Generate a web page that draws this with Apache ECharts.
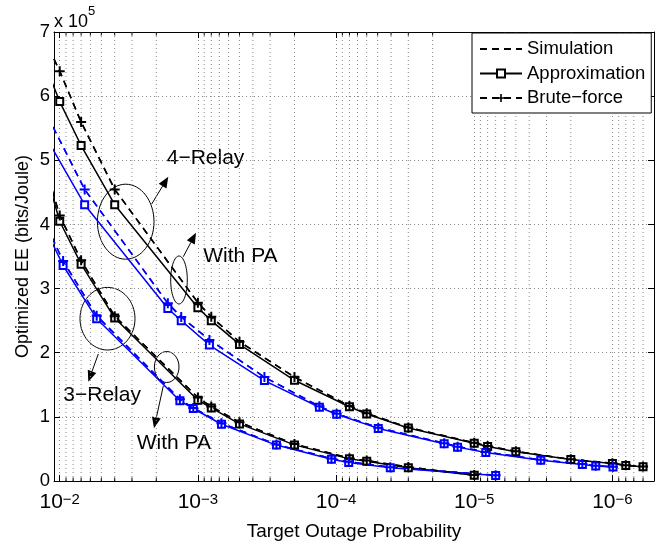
<!DOCTYPE html>
<html>
<head>
<meta charset="utf-8">
<script src="https://cdn.jsdelivr.net/npm/echarts@6/dist/echarts.min.js"></script>
<style>
  html, body { margin: 0; padding: 0; background: #fff; }
  #chart { width: 670px; height: 546px; }
</style>
</head>
<body>
<div id="chart"></div>
<script>
// x: target outage probability, y: optimized EE in units of 1e5 bits/Joule
// the first point of each curve sits just past the left edge and gets clipped
const outage4 = [1.2e-2, 1e-2, 7e-3, 4e-3, 1e-3, 8e-4, 5e-4, 2e-4, 8e-5, 6e-5, 3e-5, 1e-5, 8e-6, 5e-6, 2e-6, 1e-6, 8e-7, 6e-7];
const approx4 = [6.34, 5.915, 5.23, 4.307, 2.70, 2.50, 2.13, 1.57, 1.157, 1.045, 0.826, 0.589, 0.538, 0.457, 0.335, 0.274, 0.243, 0.223];
const brute4 = [6.75, 6.39, 5.596, 4.546, 2.78, 2.56, 2.17, 1.62, 1.17, 1.055, 0.835, 0.595, 0.545, 0.462, 0.338, 0.277, 0.246, 0.225];

const outage4PA = [1.65e-2, 1.155e-2, 6.6e-3, 1.65e-3, 1.32e-3, 8.25e-4, 3.3e-4, 1.32e-4, 9.9e-5, 4.95e-5, 1.65e-5, 1.32e-5, 8.25e-6, 3.3e-6, 1.65e-6, 1.32e-6, 9.9e-7];
const approx4PA = [5.90, 5.22, 4.307, 2.69, 2.50, 2.12, 1.565, 1.15, 1.04, 0.82, 0.58, 0.528, 0.446, 0.324, 0.259, 0.233, 0.218];
const brute4PA = [6.38, 5.58, 4.546, 2.77, 2.557, 2.20, 1.62, 1.165, 1.05, 0.83, 0.59, 0.535, 0.452, 0.33, 0.264, 0.238, 0.222];

const outage3 = [1.2e-2, 1e-2, 7e-3, 4e-3, 1e-3, 8e-4, 5e-4, 2e-4, 8e-5, 6e-5, 3e-5, 1e-5];
const approx3 = [4.64, 4.05, 3.38, 2.54, 1.26, 1.14, 0.89, 0.563, 0.345, 0.309, 0.208, 0.088];
const brute3 = [4.71, 4.14, 3.44, 2.57, 1.30, 1.16, 0.915, 0.575, 0.355, 0.318, 0.218, 0.092];

const outage3PA = [1.35e-2, 9.45e-3, 5.4e-3, 1.35e-3, 1.08e-3, 6.75e-4, 2.7e-4, 1.08e-4, 8.1e-5, 4.05e-5, 7e-6];
const approx3PA = [4.05, 3.36, 2.53, 1.25, 1.13, 0.885, 0.56, 0.34, 0.29, 0.208, 0.085];
const brute3PA = [4.14, 3.43, 2.576, 1.274, 1.137, 0.902, 0.568, 0.35, 0.3, 0.215, 0.09];

const legendNames = ['Simulation', 'Approximation', 'Brute\u2212force'];

// axis range
const xMin = 5e-7;
const xMax = 1.1e-2;
const yMax = 7;

// minor log ticks (2..9 x 10^k) inside the range
const minorTicks = [];
for (let k = -7; k <= -3; k++) {
  for (let m = 2; m <= 9; m++) {
    const v = m * Math.pow(10, k);
    if (v > xMin && v < xMax) minorTicks.push(v);
  }
}

const FONT = 'Liberation Sans, Arial, Helvetica, sans-serif';
const BLUE = '#0000ff';
const PLUS = 'path://M4,0H6V4H10V6H6V10H4V6H0V4H4Z';
const dash = [7, 5];

const zip = (xs, ys) => xs.map((x, i) => [x, ys[i]]);

const simSeries = (xs, ys, color) => ({
  name: legendNames[0],
  type: 'line',
  data: zip(xs, ys),
  symbol: 'circle',
  showSymbol: false,
  lineStyle: { color, width: 1.5, type: dash },
  itemStyle: { color },
  z: 3,
});
const approxSeries = (xs, ys, color) => ({
  name: legendNames[1],
  type: 'line',
  data: zip(xs, ys),
  symbol: 'emptyRect',
  symbolSize: 7,
  lineStyle: { color, width: 1.5 },
  itemStyle: { color, borderWidth: 1.3 },
  z: 4,
});
const bruteSeries = (xs, ys, color) => ({
  name: legendNames[2],
  type: 'line',
  data: zip(xs, ys),
  symbol: PLUS,
  symbolSize: 10,
  lineStyle: { color, width: 1.5, type: dash },
  itemStyle: { color },
  z: 5,
});

const powLabel = v => {
  const e = Math.log10(v);
  const r = Math.round(e);
  if (Math.abs(e - r) > 1e-6) return '';
  return '{b|10}{s|' + (r < 0 ? '\u2212' + (-r) : r) + '}';
};

// annotation helpers (pixel space)
const arrow = (x1, y1, x2, y2) => {
  const ang = Math.atan2(y2 - y1, x2 - x1);
  const L = 11, W = 4.5;
  const bx = x2 - L * Math.cos(ang), by = y2 - L * Math.sin(ang);
  const px = -Math.sin(ang) * W, py = Math.cos(ang) * W;
  return [
    { type: 'line', shape: { x1, y1, x2: bx, y2: by }, style: { stroke: '#000', lineWidth: 1 } },
    { type: 'polygon', shape: { points: [[x2, y2], [bx + px, by + py], [bx - px, by - py]] }, style: { fill: '#000' } },
  ];
};
const ellipse = (cx, cy, rx, ry) => ({
  type: 'ellipse', shape: { cx, cy, rx, ry }, style: { fill: 'none', stroke: '#000', lineWidth: 1 },
});
const note = (x, y, text) => ({
  type: 'text', x, y,
  style: { text, fontSize: 21, fontFamily: FONT, fill: '#000', verticalAlign: 'middle' },
});

const chart = echarts.init(document.getElementById('chart'), null, { renderer: 'canvas' });

const gridLine = { show: true, lineStyle: { color: '#888', type: [1, 3], width: 1 } };
const logAxis = { type: 'log', logBase: 10, min: xMin, max: xMax, inverse: true };
const axisLine = { show: true, onZero: false, lineStyle: { color: '#000', width: 1 } };

const option = {
  animation: false,
  backgroundColor: '#fff',
  grid: { left: 54, right: 16, top: 32, bottom: 54 },
  legend: {
    // the simulation entry is a bare dashed line, so its marker is hidden
    data: [
      { name: legendNames[0], itemStyle: { opacity: 0 } },
      legendNames[1],
      legendNames[2],
    ],
    orient: 'vertical',
    left: 472,
    top: 33,
    padding: [6, 6, 5, 7],
    itemGap: 4.5,
    itemWidth: 42,
    itemHeight: 10,
    backgroundColor: '#fff',
    borderColor: '#000',
    borderWidth: 1,
    borderRadius: 0,
    selectedMode: false,
    textStyle: { fontSize: 18.5, fontFamily: FONT, color: '#000', lineHeight: 20 },
  },
  xAxis: [
    {
      ...logAxis,
      position: 'bottom',
      axisLine,
      axisTick: { show: true, inside: true, length: 6, lineStyle: { color: '#000' } },
      axisLabel: {
        formatter: powLabel,
        margin: 11,
        rich: {
          b: { fontSize: 21, fontFamily: FONT, color: '#000' },
          s: { fontSize: 15, fontFamily: FONT, color: '#000', verticalAlign: 'top' },
        },
      },
      splitLine: gridLine,
      name: 'Target Outage Probability',
      nameLocation: 'middle',
      nameGap: 41,
      nameTextStyle: { fontSize: 19, fontFamily: FONT, color: '#000' },
    },
    {
      ...logAxis,
      position: 'top',
      axisLine,
      axisTick: { show: true, inside: true, length: 6, lineStyle: { color: '#000' } },
      axisLabel: { show: false },
      splitLine: { show: false },
    },
  ],
  yAxis: [
    {
      type: 'value',
      min: 0,
      max: yMax,
      interval: 1,
      position: 'left',
      axisLine,
      axisTick: { show: true, inside: true, length: 6, lineStyle: { color: '#000' } },
      axisLabel: { fontSize: 18.5, fontFamily: FONT, color: '#000', margin: 4 },
      splitLine: gridLine,
      name: 'Optimized EE (bits/Joule)',
      nameLocation: 'middle',
      nameMoveOverlap: false,
      nameGap: 22,
      nameTextStyle: { fontSize: 18, fontFamily: FONT, color: '#000' },
    },
    {
      type: 'value',
      min: 0,
      max: yMax,
      interval: 1,
      position: 'right',
      axisLine,
      axisTick: { show: true, inside: true, length: 6, lineStyle: { color: '#000' } },
      axisLabel: { show: false },
      splitLine: { show: false },
    },
  ],
  series: [
    {
      type: 'custom',
      silent: true,
      z: 1,
      data: minorTicks.map(v => [v, 0]),
      renderItem: (params, api) => {
        const v = api.value(0);
        const b = api.coord([v, 0]);
        const t = api.coord([v, yMax]);
        return {
          type: 'group',
          children: [
            { type: 'line', shape: { x1: b[0], y1: b[1], x2: t[0], y2: t[1] }, style: { stroke: '#888', lineDash: [1, 3], lineWidth: 1 } },
            { type: 'line', shape: { x1: b[0], y1: b[1], x2: b[0], y2: b[1] - 3.5 }, style: { stroke: '#000', lineWidth: 1 } },
            { type: 'line', shape: { x1: t[0], y1: t[1], x2: t[0], y2: t[1] + 3.5 }, style: { stroke: '#000', lineWidth: 1 } },
          ],
        };
      },
    },
    simSeries(outage4, brute4, '#000'),
    approxSeries(outage4, approx4, '#000'),
    bruteSeries(outage4, brute4, '#000'),
    simSeries(outage3, brute3, '#000'),
    approxSeries(outage3, approx3, '#000'),
    bruteSeries(outage3, brute3, '#000'),
    simSeries(outage4PA, brute4PA, BLUE),
    approxSeries(outage4PA, approx4PA, BLUE),
    bruteSeries(outage4PA, brute4PA, BLUE),
    simSeries(outage3PA, brute3PA, BLUE),
    approxSeries(outage3PA, approx3PA, BLUE),
    bruteSeries(outage3PA, brute3PA, BLUE),
  ],
  graphic: [
    {
      type: 'text', left: 54, top: 5,
      style: {
        text: '{a|x 10}{b|5}',
        rich: {
          a: { fontSize: 18, fontFamily: FONT, fill: '#000', padding: [8, 0, 0, 0] },
          b: { fontSize: 13, fontFamily: FONT, fill: '#000', verticalAlign: 'top' },
        },
      },
    },
    ellipse(125.7, 221.7, 28.3, 37.5),
    ellipse(179, 280, 8.3, 24),
    ellipse(107.5, 318.7, 27.5, 31.3),
    ellipse(166.7, 367, 12.3, 15.5),
    ...arrow(151.7, 204, 168.3, 176.7),
    ...arrow(183.3, 256.7, 196, 232.7),
    ...arrow(98.3, 354, 88.3, 381.7),
    ...arrow(163.3, 386, 154, 428.3),
    note(166.7, 158.3, '4\u2212Relay'),
    note(203.3, 256, 'With PA'),
    note(63.3, 395, '3\u2212Relay'),
    note(136.7, 443.3, 'With PA'),
  ],
};

chart.setOption(option);
</script>
</body>
</html>
